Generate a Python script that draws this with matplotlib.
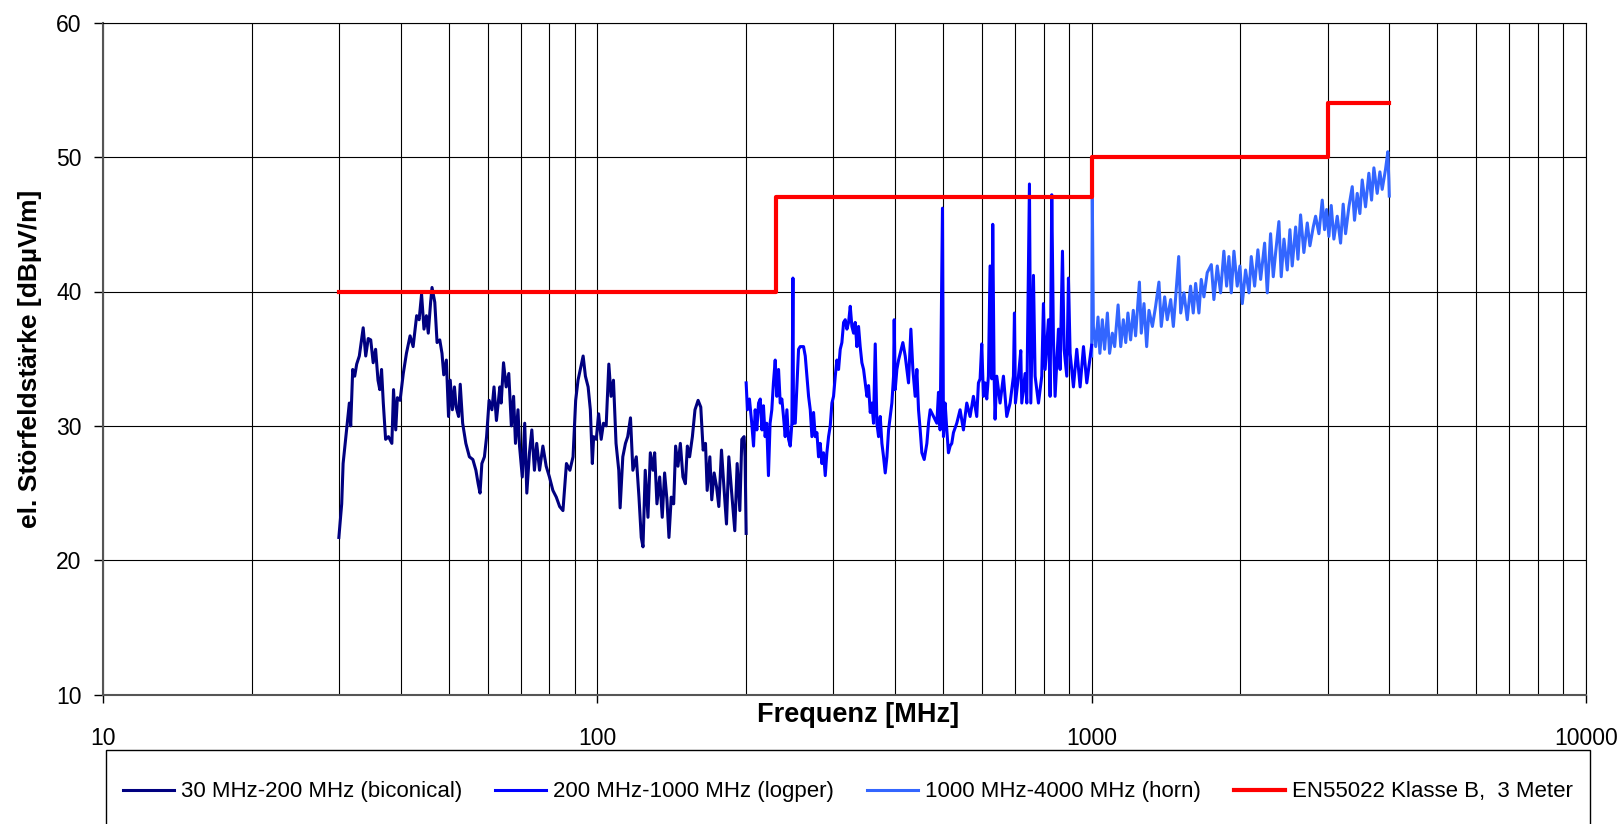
import matplotlib
matplotlib.use('Agg')
import matplotlib.pyplot as plt
from matplotlib.patches import Rectangle
from matplotlib.ticker import LogLocator, NullFormatter

# ---------------- data ----------------
bico_freq = [30.0, 30.4, 30.6, 31.1, 31.5, 31.7, 32.0, 32.3, 32.6, 33.0, 33.6, 34.0, 34.4, 34.8,
             35.2, 35.6, 36.0, 36.3, 36.6, 36.9, 37.3, 37.8, 38.4, 38.7, 39.1, 39.4, 39.9, 40.5,
             41.1, 41.8, 42.4, 43.1, 43.6, 44.1, 44.6, 45.1, 45.5, 46.0, 46.3, 46.9, 47.4, 48.0,
             48.5, 48.9, 49.5, 50.0, 50.4, 50.9, 51.4, 51.8, 52.4, 52.8, 53.4, 54.2, 55.1, 56.0,
             56.8, 57.4, 57.9, 58.4, 59.1, 59.7, 60.4, 61.2, 61.8, 62.5, 63.5, 63.9, 64.6, 65.4,
             66.2, 67.0, 67.7, 68.3, 69.1, 69.6, 70.5, 71.3, 72.0, 72.9, 73.7, 74.6, 75.4, 76.4,
             77.6, 78.8, 80.0, 81.3, 82.6, 83.9, 85.2, 86.6, 88.0, 89.3, 90.4, 91.4, 92.6, 93.6,
             94.6, 95.8, 96.8, 97.7, 98.3, 99.5, 100.6, 101.8, 102.9, 104.2, 105.5, 106.6, 107.8,
             109.1, 110.5, 111.2, 112.6, 114.0, 115.2, 116.7, 118.0, 119.9, 121.4, 122.7, 123.7,
             125.0, 126.6, 128.0, 129.6, 130.6, 132.0, 133.7, 135.3, 136.8, 138.3, 139.6, 141.1,
             142.7, 144.0, 145.6, 147.2, 149.0, 150.7, 152.1, 153.7, 155.7, 157.6, 159.9, 161.9,
             163.7, 165.5, 166.8, 168.9, 170.4, 172.3, 174.2, 176.1, 178.3, 180.3, 182.5, 184.5,
             186.8, 189.7, 191.8, 194.2, 196.0, 198.1, 199.0, 200.0]
bico_level = [21.7, 24.2, 27.2, 29.7, 31.7, 30.0, 34.2, 33.7, 34.6, 35.2, 37.3, 35.2, 36.5, 36.4,
              34.7, 35.7, 33.4, 32.7, 34.2, 31.7, 29.0, 29.2, 28.7, 32.7, 29.7, 32.1, 31.9, 33.9,
              35.4, 36.7, 35.9, 38.2, 37.9, 39.8, 37.2, 38.2, 36.9, 39.2, 40.3, 39.2, 36.2, 36.4,
              35.4, 33.8, 34.9, 30.7, 33.4, 31.2, 32.9, 31.4, 30.7, 33.1, 30.2, 28.7, 27.7, 27.5,
              26.7, 25.7, 25.0, 27.2, 27.7, 29.2, 31.9, 31.2, 32.9, 30.4, 32.9, 31.7, 34.7, 32.9,
              33.9, 30.0, 32.2, 28.7, 31.2, 28.5, 26.2, 30.2, 25.0, 28.0, 29.7, 26.7, 28.7, 26.7,
              28.5, 27.0, 26.2, 25.2, 24.7, 24.0, 23.7, 27.2, 26.7, 27.7, 31.9, 33.4, 34.4, 35.2,
              33.7, 32.9, 31.2, 27.2, 29.2, 29.0, 30.9, 29.0, 30.2, 30.0, 34.6, 32.2, 33.4,
              28.7, 26.7, 23.9, 27.7, 28.7, 29.2, 30.6, 26.7, 27.7, 24.7, 21.7, 21.0,
              26.7, 23.2, 28.0, 26.7, 28.0, 24.2, 26.2, 23.2, 26.5, 24.5, 21.7, 24.7,
              24.2, 28.5, 27.0, 28.7, 26.2, 25.7, 28.5, 27.7, 29.2, 31.2, 31.9, 31.4,
              28.2, 28.7, 25.2, 27.7, 24.5, 26.5, 25.5, 24.0, 28.2, 25.5, 22.7, 27.7,
              25.2, 22.2, 27.2, 23.7, 29.0, 29.2, 27.7, 22.0]

logper_freq = [200.0, 201.2, 203.1, 205.3, 207.0, 208.6, 210.2, 211.9, 213.6, 215.3, 216.8, 218.5,
               220.1, 221.9, 223.6, 225.4, 227.1, 229.0, 230.7, 232.6, 234.4, 236.2, 238.0, 239.9,
               241.8, 243.7, 245.6, 247.5, 248.7, 249.4, 251.4, 253.3, 255.3, 257.3, 261.3, 263.4,
               265.4, 267.5, 269.6, 271.7, 273.8, 275.9, 278.1, 280.2, 282.4, 284.6, 286.8, 289.1,
               291.3, 293.6, 295.9, 298.2, 300.5, 302.9, 305.2, 307.6, 310.0, 312.4, 314.9, 317.3,
               319.8, 322.3, 324.8, 327.3, 329.9, 332.4, 335.0, 337.6, 340.2, 342.9, 345.6, 348.3,
               351.0, 353.7, 356.5, 359.3, 362.0, 364.9, 367.7, 370.6, 373.5, 376.4, 379.3, 382.3,
               385.3, 388.3, 391.3, 394.3, 397.4, 398.6, 400.5, 403.6, 406.8, 409.9, 415.0, 419.6,
               422.8, 426.1, 430.8, 434.8, 439.5, 443.0, 446.4, 449.9, 453.4, 458.4, 464.1, 467.7,
               471.4, 478.8, 486.2, 489.9, 493.7, 499.1, 501.4, 505.3, 509.3, 513.2, 517.2, 521.2,
               525.3, 533.5, 541.8, 550.3, 558.9, 567.6, 576.5, 585.5, 590.1, 594.7, 599.3, 604.0,
               608.7, 613.4, 618.2, 623.0, 627.9, 630.8, 634.8, 637.7, 642.7, 652.7, 663.0, 673.3,
               683.9, 694.6, 697.9, 701.1, 711.0, 718.8, 722.1, 733.4, 739.2, 748.4, 753.1, 762.5,
               768.4, 780.5, 792.6, 798.8, 805.1, 817.6, 824.0, 830.4, 836.9, 843.4, 856.6, 863.3,
               872.8, 879.6, 890.6, 897.5, 904.5, 918.6, 933.0, 947.6, 962.6, 977.6, 1000.0]
logper_level = [33.2, 31.2, 32.0, 30.2, 28.5, 31.2, 29.7, 31.7, 32.0, 29.7, 31.5, 29.2,
                30.2, 26.3, 30.2, 31.2, 33.2, 34.9, 32.2, 34.2, 31.7, 32.0, 30.7, 29.2,
                31.2, 29.0, 28.5, 30.2, 41.0, 30.2, 30.2, 32.9, 35.7, 35.9, 35.9, 35.2,
                33.7, 32.2, 31.2, 29.2, 31.0, 29.2, 29.5, 27.7, 28.7, 27.2, 28.0, 26.3,
                28.0, 29.2, 30.0, 31.7, 32.2, 33.7, 34.9, 34.2, 35.7, 36.2, 37.7, 37.9,
                37.2, 37.7, 38.9, 37.4, 36.9, 37.7, 35.9, 37.4, 35.9, 34.7, 34.2, 33.2,
                32.2, 33.0, 31.0, 31.7, 30.2, 36.1, 30.2, 29.2, 30.7, 28.7, 27.7, 26.5,
                27.7, 29.7, 30.7, 31.7, 33.7, 37.9, 32.7, 34.2, 34.9, 35.4, 36.2, 35.2,
                34.2, 33.2, 37.2, 34.2, 32.2, 34.2, 31.2, 29.7, 28.0, 27.5, 28.7, 30.2,
                31.2, 30.7, 30.2, 32.5, 29.7, 46.2, 29.2, 31.7, 29.7, 28.0, 28.5, 28.7,
                29.5, 30.2, 31.2, 29.7, 31.7, 30.7, 32.2, 30.7, 33.2, 33.5, 36.1, 32.2,
                33.2, 32.0, 33.7, 41.9, 33.5, 45.0, 33.7, 30.5, 33.7, 31.7, 33.7, 30.7,
                31.7, 33.7, 38.4, 31.7, 33.7, 35.6, 31.7, 33.9, 31.7, 48.0, 31.7, 41.2,
                33.7, 31.7, 33.7, 39.1, 34.2, 37.9, 32.2, 47.2, 36.4, 32.2, 37.2, 34.2,
                43.0, 35.7, 33.7, 41.0, 35.4, 32.9, 35.7, 32.9, 35.9, 33.2, 36.0]

horn_freq = [1000, 1003, 1008, 1019, 1030, 1039, 1051, 1062, 1076, 1087, 1101, 1113, 1131, 1145,
             1159, 1172, 1184, 1199, 1214, 1227, 1249, 1260, 1276, 1292, 1306, 1327, 1347, 1368,
             1383, 1405, 1422, 1445, 1463, 1479, 1500, 1514, 1537, 1561, 1585, 1605, 1623, 1648,
             1666, 1687, 1713, 1746, 1767, 1795, 1823, 1851, 1875, 1895, 1916, 1940, 1970, 1995,
             2017, 2048, 2081, 2103, 2136, 2169, 2197, 2238, 2266, 2301, 2330, 2356, 2392, 2418,
             2449, 2487, 2518, 2545, 2586, 2614, 2646, 2687, 2730, 2764, 2807, 2838, 2882, 2927,
             2959, 2987, 3019, 3052, 3090, 3139, 3188, 3227, 3263, 3314, 3366, 3402, 3445, 3488,
             3526, 3581, 3637, 3683, 3723, 3781, 3829, 3870, 3931, 3973, 3992, 4000]
horn_level = [35.2, 46.9, 37.4, 35.9, 38.1, 35.4, 37.9, 35.7, 38.4, 35.4, 36.9, 35.9, 39.0, 35.9,
              37.9, 36.2, 38.4, 36.4, 38.6, 36.7, 40.7, 36.9, 39.1, 35.9, 38.6, 37.4, 38.9, 40.7,
              37.4, 39.6, 37.9, 39.4, 37.4, 39.6, 42.6, 38.4, 39.9, 37.9, 40.4, 38.4, 40.6, 38.4,
              40.9, 39.6, 41.4, 42.0, 39.4, 41.9, 39.9, 43.0, 40.4, 42.6, 39.9, 43.0, 40.4, 41.9,
              39.1, 41.6, 39.9, 42.6, 40.4, 43.1, 40.9, 43.6, 39.9, 44.3, 41.1, 42.9, 45.2, 41.1,
              43.9, 41.6, 44.6, 41.9, 44.8, 42.4, 45.7, 42.9, 45.1, 43.4, 44.8, 45.6, 44.3, 46.8,
              44.6, 46.1, 44.1, 46.4, 43.9, 45.6, 43.6, 46.5, 44.3, 46.3, 47.8, 45.3, 47.3, 45.8,
              48.3, 46.3, 48.8, 46.8, 49.2, 47.3, 48.9, 47.6, 49.1, 50.4, 48.3, 47.1]

limit_freq = [30, 230, 1000, 3000, 4000]
limit_level = [40, 47, 50, 54, 54]

series_labels = ['30 MHz-200 MHz (biconical)', '200 MHz-1000 MHz (logper)',
                 '1000 MHz-4000 MHz (horn)', 'EN55022 Klasse B,  3 Meter']
x_ticks = [10, 100, 1000, 10000]
x_tick_labels = ['10', '100', '1000', '10000']
y_ticks = [10, 20, 30, 40, 50, 60]
x_label = 'Frequenz [MHz]'
y_label = 'el. Störfeldstärke [dBµV/m]'

# ---------------- figure ----------------
plt.rcParams['font.family'] = ['Liberation Sans', 'DejaVu Sans']

W, H = 1621, 824
fig = plt.figure(figsize=(W / 100, H / 100), dpi=100)
ax = fig.add_axes([103 / W, 1 - 694.7 / H, (1586 - 103) / W, (694.7 - 22.7) / H])

ax.plot(bico_freq, bico_level, color='#000080', lw=2.2, label=series_labels[0], zorder=3)
ax.plot(logper_freq, logper_level, color='#0000FF', lw=2.2, label=series_labels[1], zorder=3)
ax.plot(horn_freq, horn_level, color='#3366FF', lw=2.2, label=series_labels[2], zorder=2)
ax.plot(limit_freq, limit_level, drawstyle='steps-post', color='#FF0000', lw=3.0,
        label=series_labels[3], zorder=4)

ax.set_xscale('log')
ax.set_xlim(10, 10000)
ax.set_ylim(10, 60)
ax.set_xticks(x_ticks, x_tick_labels)
ax.set_yticks(y_ticks)
ax.xaxis.set_minor_locator(LogLocator(base=10, subs=range(2, 10), numticks=30))
ax.xaxis.set_minor_formatter(NullFormatter())

ax.grid(which='both', axis='x', color='black', lw=0.8, zorder=0)
ax.grid(which='major', axis='y', color='black', lw=0.8, zorder=0)
ax.set_axisbelow(True)

ax.tick_params(axis='x', which='minor', length=0)
ax.tick_params(axis='x', which='major', direction='out', length=6, width=1,
               pad=17, labelsize=16.5)
ax.tick_params(axis='y', direction='out', length=6.5, width=1, pad=9, labelsize=16.5)

for side in ['top', 'right']:
    ax.spines[side].set_linewidth(0.8)
    ax.spines[side].set_color('black')
for side in ['left', 'bottom']:
    ax.spines[side].set_linewidth(1.5)
    ax.spines[side].set_color('#555555')

ax.set_xlabel(x_label, fontsize=19.5, fontweight='bold', va='top')
ax.xaxis.set_label_coords(0.509, -0.011)
ax.set_ylabel(y_label, fontsize=19, fontweight='bold', va='center')
ax.yaxis.set_label_coords(-0.049, 0.5)

# legend
fig.legend(loc='center left', bbox_to_anchor=(123 / W, 1 - 792 / H), ncol=4,
           frameon=False, fontsize=16, handlelength=2.3, handletextpad=0.3,
           columnspacing=1.5, borderpad=0, borderaxespad=0)
fig.add_artist(Rectangle((106 / W, -0.05), (1590 - 106) / W, 0.05 + (H - 750) / H,
                         transform=fig.transFigure, fill=False, edgecolor='black',
                         lw=1.0))

fig.savefig('out.png', dpi=100)
